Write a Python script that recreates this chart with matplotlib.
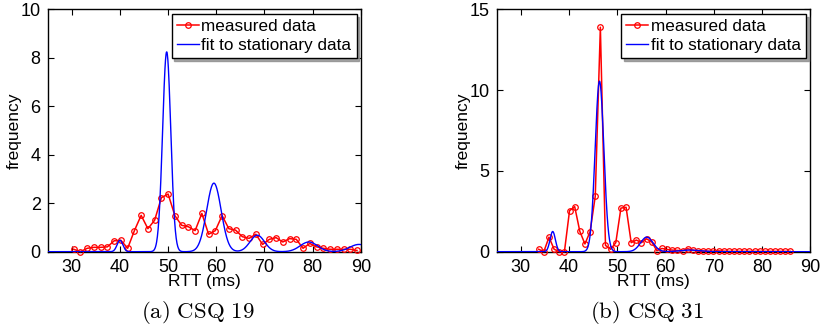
import numpy as np
import matplotlib
matplotlib.use("Agg")
import matplotlib.pyplot as plt

plt.rcParams["font.family"] = ["Liberation Sans", "DejaVu Sans"]
plt.rcParams["mathtext.fontset"] = "cm"

# ---- CSQ 19: measured RTT histogram ----
rtt_a = [30.4, 31.8, 33.2, 34.6, 36.0, 37.4, 38.8, 40.2, 41.6, 43.0,
         44.4, 45.8, 47.2, 48.6, 50.0, 51.4, 52.8, 54.2, 55.6, 57.0,
         58.4, 59.8, 61.2, 62.6, 64.0, 65.4, 66.8, 68.2, 69.6, 71.0,
         72.4, 73.8, 75.2, 76.6, 78.0, 79.4, 80.8, 82.2, 83.6, 85.0,
         86.4, 87.8, 89.2]
freq_a = [0.10, 0.00, 0.14, 0.18, 0.18, 0.20, 0.45, 0.47, 0.14, 0.87,
          1.50, 0.95, 1.30, 2.23, 2.38, 1.49, 1.09, 1.03, 0.87, 1.58,
          0.72, 0.87, 1.49, 0.95, 0.89, 0.62, 0.55, 0.72, 0.30, 0.51,
          0.58, 0.40, 0.54, 0.51, 0.14, 0.34, 0.20, 0.14, 0.10, 0.10,
          0.10, 0.10, 0.05]
# Gaussian-mixture fit to stationary data (centre, height, width)
fit_centre_a = [40.0, 49.7, 59.5, 68.5, 79.2, 89.6]
fit_height_a = [0.47, 8.25, 2.83, 0.68, 0.40, 0.30]
fit_sigma_a = [0.6, 0.85, 1.5, 1.5, 1.8, 1.9]

# ---- CSQ 31: measured RTT histogram ----
rtt_b = list(np.round(33.7 + 1.065 * np.arange(50), 2))
freq_b = [0.15, 0.00, 0.90, 0.15, 0.00, 0.00, 2.54, 2.79, 1.26, 0.48,
          1.24, 3.43, 13.90, 0.39, 0.15, 0.56, 2.70, 2.75, 0.56, 0.72,
          0.56, 0.80, 0.60, 0.06, 0.20, 0.14, 0.10, 0.08, 0.06, 0.18,
          0.10, 0.03, 0.03, 0.03, 0.03, 0.05, 0.03, 0.02, 0.02, 0.02,
          0.02, 0.02, 0.02, 0.02, 0.02, 0.02, 0.02, 0.02, 0.02, 0.02]
fit_centre_b = [36.6, 46.3, 56.1, 65.0]
fit_height_b = [1.25, 10.56, 0.90, 0.10]
fit_sigma_b = [0.55, 0.9, 1.3, 2.0]

captions = [r"$\mathrm{(a)\ CSQ\ 19}$", r"$\mathrm{(b)\ CSQ\ 31}$"]
x_ticks = [30, 40, 50, 60, 70, 80, 90]


def mixture(x, centres, heights, sigmas):
    y = np.zeros_like(x)
    for c, h, s in zip(centres, heights, sigmas):
        y += h * np.exp(-0.5 * ((x - c) / s) ** 2)
    return y


fig = plt.figure(figsize=(8.22, 3.30), dpi=100)
axes = [fig.add_axes([0.058, 0.2373, 0.381, 0.734]),
        fig.add_axes([0.6043, 0.2373, 0.3815, 0.734])]

panels = [
    (rtt_a, freq_a, fit_centre_a, fit_height_a, fit_sigma_a, 10, [0, 2, 4, 6, 8, 10]),
    (rtt_b, freq_b, fit_centre_b, fit_height_b, fit_sigma_b, 15, [0, 5, 10, 15]),
]

xs = np.linspace(25, 90, 1200)
for ax, (rx, ry, fc, fh, fs, ytop, yt), cap, cx in zip(
        axes, panels, captions, [0.2403, 0.787]):
    ax.plot(rx, ry, color="red", lw=1.1, marker="o", ms=4.0, mfc="none",
            mew=0.9, label="measured data", clip_on=False, zorder=3)
    ax.plot(xs, mixture(xs, fc, fh, fs), color="blue", lw=1.0,
            label="fit to stationary data", zorder=4)
    ax.set_xlim(25, 90)
    ax.set_ylim(0, ytop)
    ax.set_xticks(x_ticks)
    ax.set_yticks(yt)
    ax.tick_params(direction="in", top=True, right=True, length=4,
                   width=0.8, labelsize=13, pad=5)
    for sp in ax.spines.values():
        sp.set_linewidth(1.0)
    ax.set_xlabel("RTT (ms)", fontsize=12.5, labelpad=-1)
    ax.set_ylabel("frequency", fontsize=12.5, labelpad=-1)
    leg = ax.legend(loc="upper right", fontsize=12.3, frameon=True,
                    fancybox=False, edgecolor="black", framealpha=1,
                    handlelength=1.3, handletextpad=0.15, borderpad=0.3,
                    labelspacing=0.25, borderaxespad=0.25,
                    shadow={"color": "0.55", "alpha": 0.8})
    leg.get_frame().set_linewidth(1.0)
    fig.text(cx, 0.0525, cap, fontsize=16.5, ha="center", va="center")

fig.savefig("out.png", dpi=100)
